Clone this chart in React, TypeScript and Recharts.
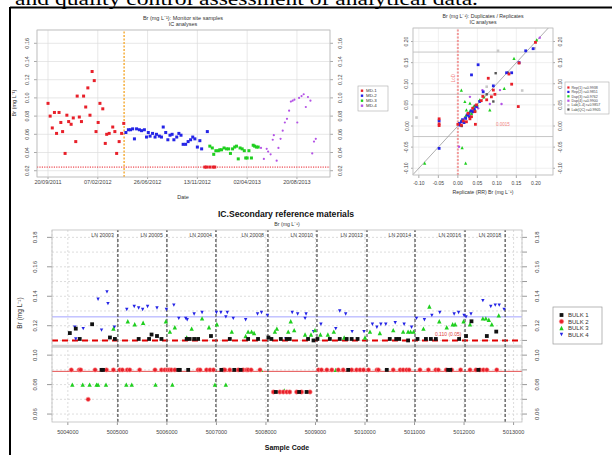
import React from 'react';
import { ScatterChart, Scatter, XAxis, YAxis, CartesianGrid, ReferenceLine } from 'recharts';

type Pt = [number, number];

// ---- Monitor site samples: [days since 20/09/2011, Br mg/L]
const MD1: Pt[] = [
  [0, 0.094], [6, 0.080], [12, 0.067], [18, 0.084], [24, 0.061], [31, 0.084], [36, 0.073], [41, 0.063],
  [48, 0.039], [53, 0.081], [58, 0.074], [65, 0.071], [71, 0.078], [78, 0.052], [82, 0.102], [88, 0.079],
  [94, 0.074], [100, 0.102], [106, 0.090], [112, 0.111], [118, 0.081], [124, 0.129], [130, 0.119], [135, 0.063],
  [141, 0.073], [146, 0.094], [154, 0.088], [161, 0.050], [165, 0.060], [172, 0.061], [182, 0.068], [188, 0.063],
  [193, 0.039], [200, 0.052], [207, 0.061], [213, 0.072],
  [441, 0.024], [446, 0.024], [455, 0.024], [464, 0.024], [469, 0.024],
];
const MD2: Pt[] = [
  [219, 0.062], [226, 0.065], [232, 0.065], [238, 0.066], [243, 0.055], [249, 0.066], [257, 0.065], [263, 0.064],
  [271, 0.065], [277, 0.057], [282, 0.062], [287, 0.058], [294, 0.061], [301, 0.057], [305, 0.060], [313, 0.058],
  [319, 0.057], [324, 0.068], [331, 0.062], [337, 0.054], [343, 0.059], [349, 0.060], [354, 0.054], [362, 0.057],
  [368, 0.061], [374, 0.059], [380, 0.049], [387, 0.049], [394, 0.052], [401, 0.054], [407, 0.057], [413, 0.055],
  [420, 0.046], [427, 0.053], [432, 0.044], [448, 0.063],
];
const MD3: Pt[] = [
  [455, 0.047], [462, 0.045], [466, 0.038], [472, 0.042], [479, 0.042], [483, 0.043], [488, 0.043], [495, 0.045],
  [502, 0.044], [508, 0.044], [513, 0.039], [519, 0.044], [525, 0.046], [530, 0.047], [535, 0.033], [540, 0.045],
  [546, 0.044], [552, 0.042], [556, 0.034], [560, 0.034], [565, 0.042], [572, 0.034], [577, 0.048], [581, 0.047],
  [586, 0.046], [591, 0.046],
];
const MD4: Pt[] = [
  [599, 0.045], [607, 0.033], [615, 0.044], [619, 0.041], [626, 0.038], [632, 0.054], [635, 0.059], [643, 0.031],
  [648, 0.045], [654, 0.055], [660, 0.064], [666, 0.073], [672, 0.077], [678, 0.086], [683, 0.096], [688, 0.097],
  [693, 0.098], [701, 0.073], [706, 0.100], [713, 0.102], [719, 0.104], [725, 0.090], [731, 0.101], [738, 0.097],
  [743, 0.039], [748, 0.052], [753, 0.055],
];
const DATE_TICKS = [0, 140, 280, 420, 560, 700];
const DATE_LABELS = ['20/09/2011', '07/02/2012', '26/06/2012', '13/11/2012', '02/04/2013', '20/08/2013'];
const MONITOR_Y_TICKS = [0.02, 0.04, 0.06, 0.08, 0.1, 0.12, 0.14, 0.16];
const QC_START = 214;
const MONITOR_LOD = 0.024;

// ---- Duplicates / replicates: [replicate, original]
const REP_RED: Pt[] = [
  [0.199, 0.198], [0.157, 0.149], [0.131, 0.123], [0.078, 0.113], [0.138, 0.099], [0.091, 0.085], [0.095, 0.075],
  [0.086, 0.069], [0.074, 0.062], [0.048, 0.05], [0.044, 0.034], [0.035, 0.022], [0.031, 0.017], [0.022, 0.01],
  [0.009, 0.002], [-0.048, 0.017], [-0.048, 0.005], [-0.048, 0.001], [0.155, 0.046], [0.045, 0.004], [0.014, 0.012],
  [0.026, 0.03], [0.038, 0.042], [0.06, 0.06], [0.064, 0.07], [0.0, 0.004],
];
const REP_BLUE: Pt[] = [
  [0.193, 0.183], [0.174, 0.178], [0.157, 0.15], [0.052, 0.145], [0.035, 0.121], [0.138, 0.126], [0.125, 0.126],
  [0.091, 0.095], [0.065, 0.081], [0.056, 0.058], [0.048, 0.046], [0.039, 0.034], [0.026, 0.026], [0.009, 0.01],
  [0.005, 0.002], [-0.048, 0.012], [-0.048, -0.053], [0.012, 0.015], [0.02, 0.018], [0.028, 0.03], [0.034, 0.036],
  [0.042, 0.04], [0.016, 0.008], [0.004, 0.006], [0.024, 0.026], [0.03, 0.022],
];
const REP_GREEN: Pt[] = [
  [0.202, 0.204], [0.144, 0.16], [0.009, 0.085], [0.018, 0.058], [0.031, 0.054], [0.056, 0.062], [0.082, 0.038],
  [0.044, 0.038], [0.022, 0.038], [0.014, 0.014], [-0.085, -0.088], [0.011, -0.051], [0.02, -0.088], [0.119, 0.089],
  [0.067, 0.069], [0.035, 0.03], [0.008, 0.012], [0.02, 0.024], [0.03, 0.034], [0.04, 0.046], [0.05, 0.05],
];
const REP_PURPLE: Pt[] = [
  [0.21, 0.209], [0.112, 0.052], [0.063, 0.085], [0.003, -0.049], [0.082, 0.052], [0.108, 0.085], [0.031, 0.069],
  [0.052, 0.042], [0.018, 0.02], [0.036, 0.03],
];
const REP_LIGHT: Pt[] = [[0.103, 0.178], [0.074, 0.093], [-0.106, 0.02], [0.165, 0.084], [0.197, 0.184]];
const REP_DARK: Pt[] = [[0.097, 0.125], [0.129, 0.126], [0.074, 0.075], [0.091, 0.058], [0.01, 0.0], [0.044, 0.048]];
const REP_TICKS = [-0.1, -0.05, 0, 0.05, 0.1, 0.15, 0.2];
const REP_GRID = [-0.025, 0.075, 0.175];
const REP_LOD = 0;
const REP_LEGEND = ['Rep(1) r=0.9938', 'Rep(2) r=0.9851', 'Dup(3) r=0.9762', 'Dup(4) r=0.9900', 'Lab(1-4) r=0.9857', 'Lab(QC) r=0.9905'];

// ---- Secondary reference materials: [sample code, Br mg/L]
const BULK1: Pt[] = [
  [5004040, 0.115], [5004160, 0.118], [5004240, 0.111], [5004490, 0.121], [5004850, 0.112], [5004950, 0.111],
  [5005430, 0.111], [5005640, 0.111], [5005690, 0.114], [5005800, 0.113], [5005890, 0.111], [5006400, 0.111],
  [5006460, 0.111], [5006550, 0.111], [5006630, 0.111], [5006890, 0.113], [5007270, 0.111], [5007640, 0.111],
  [5007840, 0.111], [5008050, 0.112], [5008110, 0.111], [5008300, 0.111], [5008420, 0.111], [5008480, 0.111],
  [5008850, 0.111], [5008960, 0.11], [5009040, 0.111], [5009290, 0.111], [5009490, 0.111], [5009630, 0.111],
  [5009730, 0.111], [5009850, 0.111], [5010500, 0.111], [5010630, 0.111], [5010690, 0.111], [5010870, 0.11],
  [5011060, 0.111], [5011230, 0.111], [5011330, 0.111], [5011430, 0.111], [5011900, 0.111], [5012040, 0.113],
  [5012150, 0.123], [5012460, 0.113], [5012650, 0.116],
  [5004680, 0.09], [5004710, 0.09], [5006230, 0.09], [5006260, 0.09], [5006430, 0.09], [5007100, 0.09],
  [5007360, 0.09], [5007490, 0.09], [5009660, 0.09], [5010440, 0.09], [5011680, 0.09], [5011720, 0.09],
  [5012290, 0.09], [5008200, 0.075], [5008670, 0.075], [5008820, 0.075],
];
const BULK2: Pt[] = [
  [5004070, 0.09], [5004230, 0.09], [5004260, 0.09], [5004550, 0.09], [5004780, 0.09], [5004920, 0.09],
  [5005050, 0.09], [5005100, 0.09], [5005200, 0.09], [5005250, 0.09], [5005450, 0.09], [5005760, 0.09],
  [5005890, 0.09], [5005960, 0.09], [5006010, 0.09], [5006050, 0.09], [5006090, 0.09], [5006160, 0.09],
  [5006630, 0.09], [5006670, 0.09], [5006800, 0.09], [5006870, 0.09], [5006940, 0.09], [5007140, 0.09],
  [5007170, 0.09], [5007270, 0.09], [5007440, 0.09], [5007540, 0.09], [5007610, 0.09], [5007640, 0.09],
  [5007700, 0.09], [5007880, 0.09], [5009060, 0.09], [5009120, 0.09], [5009230, 0.09], [5009330, 0.09],
  [5009460, 0.09], [5009560, 0.09], [5009730, 0.09], [5009830, 0.09], [5009900, 0.09], [5009970, 0.09],
  [5010070, 0.09], [5010240, 0.09], [5010270, 0.09], [5010570, 0.09], [5010710, 0.09], [5010770, 0.09],
  [5010840, 0.09], [5010890, 0.09], [5011110, 0.09], [5011280, 0.09], [5011430, 0.09], [5011480, 0.09],
  [5011640, 0.09], [5011750, 0.09], [5011930, 0.09], [5012120, 0.09], [5012240, 0.09], [5012320, 0.09],
  [5012390, 0.09], [5012460, 0.09], [5012660, 0.09],
  [5008150, 0.075], [5008280, 0.075], [5008350, 0.075], [5008420, 0.075], [5008480, 0.075], [5008620, 0.075],
  [5008720, 0.075], [5008890, 0.075], [5004410, 0.07],
];
const BULK3: Pt[] = [
  [5004920, 0.118], [5005210, 0.123], [5005350, 0.121], [5005520, 0.122], [5005980, 0.123], [5006060, 0.116],
  [5006160, 0.119], [5006400, 0.112], [5006500, 0.118], [5006710, 0.125], [5006850, 0.119], [5007010, 0.121],
  [5007310, 0.116], [5007590, 0.113], [5007640, 0.116], [5007710, 0.116], [5007760, 0.115], [5008180, 0.116],
  [5008220, 0.118], [5008450, 0.116], [5008500, 0.123], [5008570, 0.117], [5008790, 0.114], [5008910, 0.114],
  [5008990, 0.117], [5009100, 0.114], [5009250, 0.114], [5009370, 0.116], [5009580, 0.112], [5010000, 0.112],
  [5010100, 0.116], [5010300, 0.115], [5010570, 0.117], [5010770, 0.116], [5010870, 0.116], [5010920, 0.116],
  [5010980, 0.116], [5011180, 0.118], [5011300, 0.133], [5011500, 0.123], [5011650, 0.119], [5011770, 0.121],
  [5011820, 0.121], [5011990, 0.123], [5012120, 0.121], [5012380, 0.125], [5012440, 0.125], [5012500, 0.124],
  [5012560, 0.121], [5012700, 0.127],
  [5007900, 0.09], [5009410, 0.09], [5008370, 0.076],
  [5004090, 0.08], [5004300, 0.08], [5004440, 0.08], [5004580, 0.08], [5004610, 0.08], [5004770, 0.08],
  [5005180, 0.08], [5005290, 0.08], [5005770, 0.08], [5006110, 0.08], [5006970, 0.08], [5007190, 0.08],
];
const BULK4: Pt[] = [
  [5004140, 0.119], [5004160, 0.111], [5004310, 0.118], [5004610, 0.138], [5004680, 0.117], [5004790, 0.143],
  [5004810, 0.135], [5004940, 0.119], [5005190, 0.131], [5005340, 0.133], [5005430, 0.132], [5005510, 0.131],
  [5005610, 0.133], [5005800, 0.132], [5005990, 0.131], [5006140, 0.134], [5006240, 0.125], [5006380, 0.125],
  [5006410, 0.124], [5006550, 0.128], [5006710, 0.129], [5007000, 0.129], [5007090, 0.129], [5007190, 0.126],
  [5007220, 0.129], [5007340, 0.125], [5007590, 0.124], [5007830, 0.128], [5007910, 0.129], [5008030, 0.127],
  [5008400, 0.111], [5008530, 0.129], [5008640, 0.128], [5008790, 0.125], [5008810, 0.128], [5008960, 0.116],
  [5009110, 0.121], [5009410, 0.118], [5009490, 0.13], [5009610, 0.128], [5009740, 0.116], [5009980, 0.116],
  [5010150, 0.121], [5010240, 0.119], [5010320, 0.121], [5010420, 0.121], [5010610, 0.122], [5010790, 0.121],
  [5010940, 0.119], [5011040, 0.125], [5011200, 0.124], [5011350, 0.127], [5011510, 0.129], [5011800, 0.128],
  [5011890, 0.129], [5012000, 0.127], [5012040, 0.126], [5012140, 0.128], [5012380, 0.137], [5012540, 0.133],
  [5012630, 0.134], [5012710, 0.134], [5012810, 0.131],
];
const CODE_TICKS = [5004000, 5005000, 5006000, 5007000, 5008000, 5009000, 5010000, 5011000, 5012000, 5013000];
const BATCH_BREAKS = [5005010, 5006000, 5006990, 5008040, 5009030, 5010040, 5011010, 5012020, 5012830];
const BATCH_NAMES = ['LN 20003', 'LN 20005', 'LN 20004', 'LN 20008', 'LN 20010', 'LN 20013', 'LN 20014', 'LN 20016', 'LN 20018'];
const SRM_Y_TICKS = [0.06, 0.08, 0.1, 0.12, 0.14, 0.16, 0.18];
const SRM_GRID = [0.06, 0.07, 0.08, 0.09, 0.1, 0.11, 0.12, 0.13, 0.14, 0.15, 0.16, 0.17, 0.18];
const BULK4_MEAN = 0.126;
const BULK1_MEAN = 0.11;
const BULK1_LOW = 0.106;
const BULK2_MEAN = 0.089;
const BULK_NAMES = ['BULK 1', 'BULK 2', 'BULK 3', 'BULK 4'];

const RED = '#e8202a';
const BLUE = '#2424e6';
const GREEN = '#1fcf1f';
const PURPLE = '#b453e6';
const SANS = '"Liberation Sans", Arial, sans-serif';

const xy = (pts: Pt[]) => pts.map(([x, y]) => ({ x, y }));

const square = (color: string, s: number) => (p: any) =>
  p.cx == null ? <g /> : <rect x={p.cx - s / 2} y={p.cy - s / 2} width={s} height={s} fill={color} />;
const dot = (color: string, r: number, stroke?: string) => (p: any) =>
  p.cx == null ? <g /> : <circle cx={p.cx} cy={p.cy} r={r} fill={color} stroke={stroke || 'none'} strokeWidth={0.6} />;
const triUp = (color: string, s: number) => (p: any) =>
  p.cx == null ? <g /> : (
    <polygon points={`${p.cx},${p.cy - s / 2} ${p.cx - s / 2},${p.cy + s / 2} ${p.cx + s / 2},${p.cy + s / 2}`} fill={color} />
  );
const triDown = (color: string, s: number) => (p: any) =>
  p.cx == null ? <g /> : (
    <polygon points={`${p.cx - s / 2},${p.cy - s / 2} ${p.cx + s / 2},${p.cy - s / 2} ${p.cx},${p.cy + s / 2}`} fill={color} />
  );

// rotated y tick label (reads bottom to top, as in base R)
const vTick = (dx: number, fs: number, show?: (v: number) => boolean) => (p: any) => {
  const v = p.payload.value;
  if (show && !show(v)) return <g />;
  const x = p.x + dx;
  return (
    <text x={x} y={p.y} transform={`rotate(-90 ${x} ${p.y})`} textAnchor="middle" dominantBaseline="central"
      fontSize={fs} fill="#444" fontFamily={SANS}>
      {v.toFixed(2)}
    </text>
  );
};

function MonitorChart() {
  return (
    <ScatterChart width={350} height={200} margin={{ top: 22, right: 0, bottom: 0, left: 0 }}>
      <CartesianGrid stroke="#dcdcdc" strokeWidth={0.7} />
      <XAxis type="number" dataKey="x" domain={[-31, 793]} ticks={DATE_TICKS} interval={0} allowDataOverflow
        tickFormatter={(v: number) => DATE_LABELS[DATE_TICKS.indexOf(v)]} height={31} tickSize={2} tickMargin={1}
        axisLine={false} stroke="#aaa" tick={{ fontSize: 5.5, fill: '#444', fontFamily: SANS }} />
      <YAxis type="number" dataKey="y" domain={[0.0131, 0.1746]} ticks={MONITOR_Y_TICKS} interval={0} allowDataOverflow
        width={27} tickSize={3} tickMargin={2} axisLine={false} stroke="#aaa" tick={vTick(-5, 5.5)} />
      <YAxis yAxisId="r" orientation="right" type="number" domain={[0.0131, 0.1746]} ticks={MONITOR_Y_TICKS} interval={0}
        allowDataOverflow width={30} tickSize={3} tickMargin={2} axisLine={false} stroke="#aaa" tick={vTick(5, 5.5)} />
      <ReferenceLine y={MONITOR_LOD} stroke={RED} strokeWidth={1} strokeDasharray="1.2 1.2" />
      <ReferenceLine x={QC_START} stroke="#f6b44a" strokeWidth={1.6} strokeDasharray="2 1.5" />
      <Scatter data={xy(MD1)} shape={square(RED, 3)} isAnimationActive={false} />
      <Scatter data={xy(MD2)} shape={square(BLUE, 3)} isAnimationActive={false} />
      <Scatter data={xy(MD3)} shape={square(GREEN, 3)} isAnimationActive={false} />
      <Scatter data={xy(MD4)} shape={dot(PURPLE, 1.1)} isAnimationActive={false} />
    </ScatterChart>
  );
}

function ReplicateChart() {
  return (
    <ScatterChart width={175} height={200} margin={{ top: 20, right: 0, bottom: 0, left: 0 }}>
      <CartesianGrid stroke="#e4e4e4" strokeWidth={0.6} />
      <XAxis type="number" dataKey="x" domain={[-0.115, 0.244]} ticks={REP_TICKS} interval={0} allowDataOverflow
        tickFormatter={(v: number) => v.toFixed(2)} height={33} tickSize={3} tickMargin={3} axisLine={false}
        stroke="#aaa" tick={{ fontSize: 5, fill: '#444', fontFamily: SANS }} />
      <YAxis type="number" dataKey="y" domain={[-0.116, 0.232]} ticks={REP_TICKS} interval={0} allowDataOverflow
        width={18} tickSize={2} tickMargin={1} axisLine={false} stroke="#aaa" tick={vTick(-3.5, 5)} />
      <YAxis yAxisId="r" orientation="right" type="number" domain={[-0.116, 0.232]} ticks={REP_TICKS} interval={0}
        allowDataOverflow width={17} tickSize={2} tickMargin={1} axisLine={false} stroke="#aaa" tick={vTick(4, 5)} />
      {REP_GRID.map((g) => (
        <ReferenceLine key={g} y={g} stroke="#b8b8b8" strokeWidth={0.8} />
      ))}
      <ReferenceLine segment={[{ x: -0.115, y: -0.115 }, { x: 0.232, y: 0.232 }]} stroke="#999" strokeWidth={0.8} />
      <ReferenceLine x={REP_LOD} stroke="#f29a9a" strokeWidth={2} strokeDasharray="2 1.5"
        label={(lp: any) => {
          const vb = lp.viewBox || {};
          const x = (vb.x || 0) - 3;
          const y = (vb.y || 0) + 50;
          return (
            <text x={x} y={y} transform={`rotate(-90 ${x} ${y})`} textAnchor="middle" fontSize={4.5} fill="#f08080" fontFamily={SANS}>
              LoD
            </text>
          );
        }} />
      <Scatter data={xy(REP_LIGHT)} shape={square('#c8c8c8', 2.6)} isAnimationActive={false} />
      <Scatter data={xy(REP_DARK)} shape={square('#555', 2.4)} isAnimationActive={false} />
      <Scatter data={xy(REP_PURPLE)} shape={dot(PURPLE, 1.2)} isAnimationActive={false} />
      <Scatter data={xy(REP_GREEN)} shape={triUp(GREEN, 3.2)} isAnimationActive={false} />
      <Scatter data={xy(REP_BLUE)} shape={square(BLUE, 2.8)} isAnimationActive={false} />
      <Scatter data={xy(REP_RED)} shape={square(RED, 2.8)} isAnimationActive={false} />
    </ScatterChart>
  );
}

function ReferenceChart() {
  return (
    <ScatterChart width={540} height={245} margin={{ top: 22, right: 0, bottom: 0, left: 0 }}>
      <CartesianGrid horizontal={false} stroke="#d4d4d4" strokeWidth={0.8} strokeDasharray="2 2" />
      <XAxis type="number" dataKey="x" domain={[5003680, 5013170]} ticks={CODE_TICKS} interval={0} allowDataOverflow
        tickFormatter={(v: number) => String(v)} height={31} tickSize={3} tickMargin={5} axisLine={false} stroke="#999"
        tick={{ fontSize: 5.5, fill: '#444', fontFamily: SANS }} />
      <YAxis type="number" dataKey="y" domain={[0.0546, 0.185]} ticks={SRM_Y_TICKS} interval={0} allowDataOverflow
        width={42} tickSize={5} tickMargin={2} axisLine={false} stroke="#999" tick={vTick(-10, 6)} />
      <YAxis yAxisId="r" orientation="right" type="number" domain={[0.0546, 0.185]} ticks={SRM_GRID} interval={0}
        allowDataOverflow width={28} tickSize={5} tickMargin={2} axisLine={false} stroke="#999"
        tick={vTick(8, 6, (v) => SRM_Y_TICKS.some((t) => Math.abs(t - v) < 1e-6))} />
      {SRM_GRID.map((g) => (
        <ReferenceLine key={g} y={g} stroke="#d4d4d4" strokeWidth={0.8} strokeDasharray="2 2" />
      ))}
      <ReferenceLine y={BULK1_LOW} stroke="#d2d2d2" strokeWidth={3} />
      <ReferenceLine y={BULK4_MEAN} stroke="#8c8cff" strokeWidth={0.8} />
      <ReferenceLine y={BULK2_MEAN} stroke="#e23a3a" strokeWidth={0.9} />
      <ReferenceLine y={BULK1_MEAN} stroke="#e00000" strokeWidth={2} strokeDasharray="6 4"
        label={(lp: any) => {
          const vb = lp.viewBox || {};
          return (
            <text x={(vb.x || 0) + (vb.width || 0) * 0.843} y={(vb.y || 0) - 4} textAnchor="middle" fontSize={5}
              fill="#e04040" fontFamily={SANS}>
              {`${BULK1_MEAN.toFixed(3)} (0.05)`}
            </text>
          );
        }} />
      {BATCH_BREAKS.map((b, i) => (
        <ReferenceLine key={b} x={b} stroke="#555" strokeWidth={1.3} strokeDasharray="3 2"
          label={(lp: any) => {
            const vb = lp.viewBox || {};
            return (
              <text x={(vb.x || 0) - 4} y={(vb.y || 0) + 7} textAnchor="end" fontSize={5.2} fill="#444" fontFamily={SANS}>
                {BATCH_NAMES[i]}
              </text>
            );
          }} />
      ))}
      <Scatter data={xy(BULK4)} shape={triDown(BLUE, 3.4)} isAnimationActive={false} />
      <Scatter data={xy(BULK3)} shape={triUp(GREEN, 4.4)} isAnimationActive={false} />
      <Scatter data={xy(BULK2)} shape={dot(RED, 2.2, '#ff9a9a')} isAnimationActive={false} />
      <Scatter data={xy(BULK1)} shape={square('#111', 3.8)} isAnimationActive={false} />
    </ScatterChart>
  );
}

function Overlay() {
  const mdColors = [RED, BLUE, GREEN, PURPLE];
  const repColors = [RED, BLUE, GREEN, PURPLE, '#c8c8c8', '#555'];
  const bulkMarks = [
    (y: number) => <rect x={559.6} y={y - 1.9} width={3.8} height={3.8} fill="#111" />,
    (y: number) => <circle cx={561.5} cy={y} r={2.2} fill={RED} stroke="#ff9a9a" strokeWidth={0.6} />,
    (y: number) => <polygon points={`561.5,${y - 2.2} 559.3,${y + 2.2} 563.7,${y + 2.2}`} fill={GREEN} />,
    (y: number) => <polygon points={`559.8,${y - 1.7} 563.2,${y - 1.7} 561.5,${y + 1.7}`} fill={BLUE} />,
  ];
  return (
    <svg width={612} height={455} style={{ position: 'absolute', left: 0, top: 0, pointerEvents: 'none' }}>
      <text x={15} y={4.5} fontSize={19} fontFamily='"Liberation Serif", "Times New Roman", serif' textLength={463}
        lengthAdjust="spacingAndGlyphs">
        and quality control assessment of analytical data.
      </text>
      <line x1={10} y1={7.5} x2={612} y2={7.5} stroke="#000" strokeWidth={2} />
      <line x1={10} y1={7} x2={10} y2={455} stroke="#000" strokeWidth={2} />

      {/* plot frames */}
      <rect x={37} y={30} width={293} height={147} fill="none" stroke="#bdbdbd" strokeWidth={0.8} />
      <rect x={413} y={28} width={140} height={147} fill="none" stroke="#bdbdbd" strokeWidth={0.8} />
      <rect x={52} y={230} width={470} height={192} fill="none" stroke="#bdbdbd" strokeWidth={0.8} />

      <g fontFamily={SANS} fill="#333">
        <text x={183} y={20} fontSize={5.5} textAnchor="middle">Br (mg L⁻¹): Monitor site samples</text>
        <text x={183} y={26} fontSize={5.5} textAnchor="middle">IC analyses</text>
        <text x={183} y={199} fontSize={5.5} textAnchor="middle">Date</text>
        <text x={14} y={103} fontSize={5.5} textAnchor="middle" dominantBaseline="central" transform="rotate(-90 14 103)">Br (mg L⁻¹)</text>

        <text x={483} y={18} fontSize={5.2} textAnchor="middle">Br (mg L⁻¹): Duplicates / Replicates</text>
        <text x={483} y={24} fontSize={5.2} textAnchor="middle">IC analyses</text>
        <text x={483} y={194} fontSize={5.2} textAnchor="middle">Replicate (RR) Br (mg L⁻¹)</text>
        <text x={503} y={126} fontSize={4.5} textAnchor="middle" fill="#f08080">0.0015</text>

        <text x={286} y={217} fontSize={8.6} fontWeight="bold" textAnchor="middle" fill="#111">IC.Secondary reference materials</text>
        <text x={287} y={226} fontSize={5.2} textAnchor="middle">Br (mg L⁻¹)</text>
        <text x={287} y={450} fontSize={7} fontWeight="bold" textAnchor="middle" fill="#111">Sample Code</text>
        <text x={19} y={313} fontSize={6.5} textAnchor="middle" dominantBaseline="central" transform="rotate(-90 19 313)">Br (mg L⁻¹)</text>
      </g>

      {/* legend: monitor sites */}
      <rect x={358} y={86} width={30} height={25} fill="#fff" stroke="#aaa" strokeWidth={0.6} />
      {['MD-1', 'MD-2', 'MD-3', 'MD-4'].map((n, i) => (
        <g key={n}>
          <rect x={360.8} y={90.7 + i * 5 - 1.2} width={2.4} height={2.4} fill={mdColors[i]} />
          <text x={366} y={90.7 + i * 5 + 1.6} fontSize={4.4} fontFamily={SANS} fill="#333">{n}</text>
        </g>
      ))}

      {/* legend: replicates */}
      <rect x={565} y={82} width={44} height={32} fill="#fff" stroke="#aaa" strokeWidth={0.6} />
      {REP_LEGEND.map((n, i) => (
        <g key={n}>
          <rect x={567.3} y={87.5 + i * 4.4 - 1.1} width={2.2} height={2.2} fill={repColors[i]} />
          <text x={571.5} y={87.5 + i * 4.4 + 1.3} fontSize={3.6} fontFamily={SANS} fill="#444">{n}</text>
        </g>
      ))}

      {/* legend: bulks */}
      <rect x={553} y={307} width={49} height={37} fill="#fff" stroke="#999" strokeWidth={0.7} />
      {BULK_NAMES.map((n, i) => (
        <g key={n}>
          {bulkMarks[i](315 + i * 6.5)}
          <text x={568} y={315 + i * 6.5 + 2.1} fontSize={6} fontFamily={SANS} fill="#333">{n}</text>
        </g>
      ))}
    </svg>
  );
}

export default function App() {
  return (
    <div style={{ position: 'absolute', left: 0, top: 0, width: 612, height: 455, background: '#fff', overflow: 'hidden' }}>
      <div style={{ position: 'absolute', left: 10, top: 8 }}>
        <MonitorChart />
      </div>
      <div style={{ position: 'absolute', left: 395, top: 8 }}>
        <ReplicateChart />
      </div>
      <div style={{ position: 'absolute', left: 10, top: 208 }}>
        <ReferenceChart />
      </div>
      <Overlay />
    </div>
  );
}
